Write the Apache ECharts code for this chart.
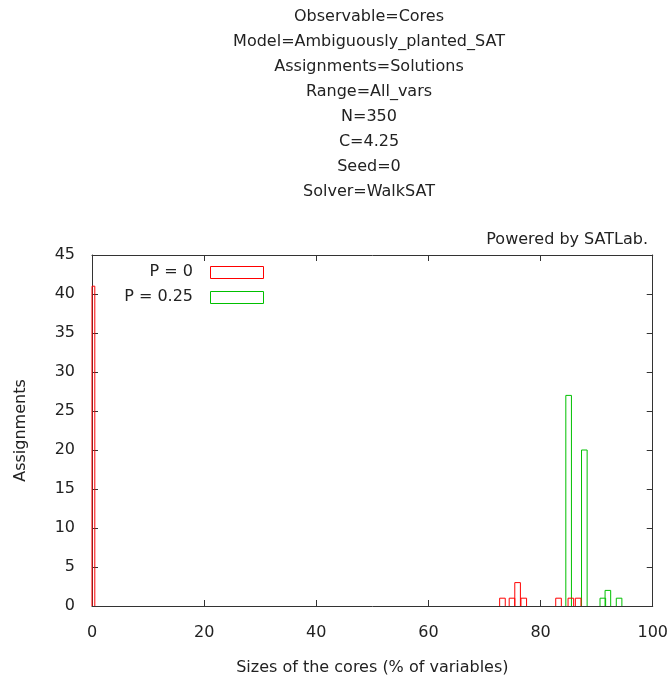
<!DOCTYPE html>
<html>
<head>
<meta charset="utf-8">
<script src="https://cdn.jsdelivr.net/npm/echarts@6/dist/echarts.min.js"></script>
<style>html,body{margin:0;padding:0;background:#fff}#c{width:671px;height:683px}</style>
</head>
<body>
<div id="c"></div>
<script>
const titleLines = ["Observable=Cores","Model=Ambiguously_planted_SAT","Assignments=Solutions","Range=All_vars","N=350","C=4.25","Seed=0","Solver=WalkSAT"];
const xTicks = [0,20,40,60,80,100];
const yTicks = [0,5,10,15,20,25,30,35,40,45];
const seriesNames = ["P = 0","P = 0.25"];
const seriesColors = ["#ff0000","#00c000"];
// bin centre (% of variables), count
const p0X = [0, 73.2, 74.9, 75.9, 77.0, 83.2, 85.4, 86.7];
const p0Y = [41, 1, 1, 3, 1, 1, 1, 1];
const p25X = [85.0, 87.8, 91.1, 92.0, 94.0];
const p25Y = [27, 20, 1, 2, 1];
const binWidth = 1.0;

const font = "DejaVu Sans";
const chart = echarts.init(document.getElementById('c'), null, {renderer:'canvas'});

function renderBox(params, api){
  const x = api.value(0), y = api.value(1);
  const p1 = api.coord([x - binWidth/2, y]);
  const p2 = api.coord([x + binWidth/2, 0]);
  const cs = params.coordSys;
  let x1 = Math.max(p1[0], cs.x), x2 = Math.min(p2[0], cs.x + cs.width);
  const y1 = p1[1], y2 = p2[1];
  const col = api.visual('color');
  return {
    type:'polyline',
    shape:{points:[[x1,y2],[x1,y1],[x2,y1],[x2,y2]]},
    style:{fill:null, stroke:col, lineWidth:1}
  };
}

const graphics = [];
titleLines.forEach((t,i)=>{
  graphics.push({type:'text', style:{text:t, x:369, y:17 + i*25, align:'center', verticalAlign:'middle', font:'16px "'+font+'"', fill:'#222'}});
});
graphics.push({type:'text', style:{text:"Powered by SATLab.", x:648, y:240, align:'right', verticalAlign:'middle', font:'16px "'+font+'"', fill:'#222'}});
// legend
[0,1].forEach(i=>{
  graphics.push({type:'text', style:{text:seriesNames[i], x:193, y:272 + i*25, align:'right', verticalAlign:'middle', font:'16px "'+font+'"', fill:'#222'}});
  graphics.push({type:'rect', shape:{x:210.5, y:266.5 + i*25, width:53, height:12}, style:{fill:null, stroke:seriesColors[i], lineWidth:1}});
});

const axisLabelStyle = {color:'#222', fontFamily:font, fontSize:16};
const tick = {show:true, inside:true, length:6, lineStyle:{color:'#333'}};
const line = {show:true, onZero:false, lineStyle:{color:'#333'}};
const option = {
  animation:false,
  textStyle:{fontFamily:font},
  grid:{left:92, right:16, top:255, bottom:77, show:false},
  xAxis:[
    {type:'value', min:0, max:100, interval:20, position:'bottom',
     name:'Sizes of the cores (% of variables)', nameLocation:'middle', nameGap:54,
     nameTextStyle:{color:'#222', fontFamily:font, fontSize:16},
     axisLine:line, axisTick:tick,
     axisLabel:Object.assign({margin:19}, axisLabelStyle), splitLine:{show:false}},
    {type:'value', min:0, max:100, interval:20, position:'top',
     axisLine:line, axisTick:tick,
     axisLabel:{show:false}, splitLine:{show:false}}
  ],
  yAxis:[
    {type:'value', min:0, max:45, interval:5, position:'left',
     name:'Assignments', nameLocation:'middle', nameGap:63, nameRotate:90,
     nameTextStyle:{color:'#222', fontFamily:font, fontSize:16},
     axisLine:line, axisTick:tick,
     axisLabel:Object.assign({margin:17}, axisLabelStyle), splitLine:{show:false}},
    {type:'value', min:0, max:45, interval:5, position:'right',
     axisLine:line, axisTick:tick,
     axisLabel:{show:false}, splitLine:{show:false}}
  ],
  series:[
    {name:seriesNames[0], type:'custom', renderItem:renderBox, itemStyle:{color:seriesColors[0]},
     encode:{x:0,y:1}, data:p0X.map((x,i)=>[x,p0Y[i]]), z:3},
    {name:seriesNames[1], type:'custom', renderItem:renderBox, itemStyle:{color:seriesColors[1]},
     encode:{x:0,y:1}, data:p25X.map((x,i)=>[x,p25Y[i]]), z:2}
  ],
  graphic:graphics
};
chart.setOption(option);
</script>
</body>
</html>
